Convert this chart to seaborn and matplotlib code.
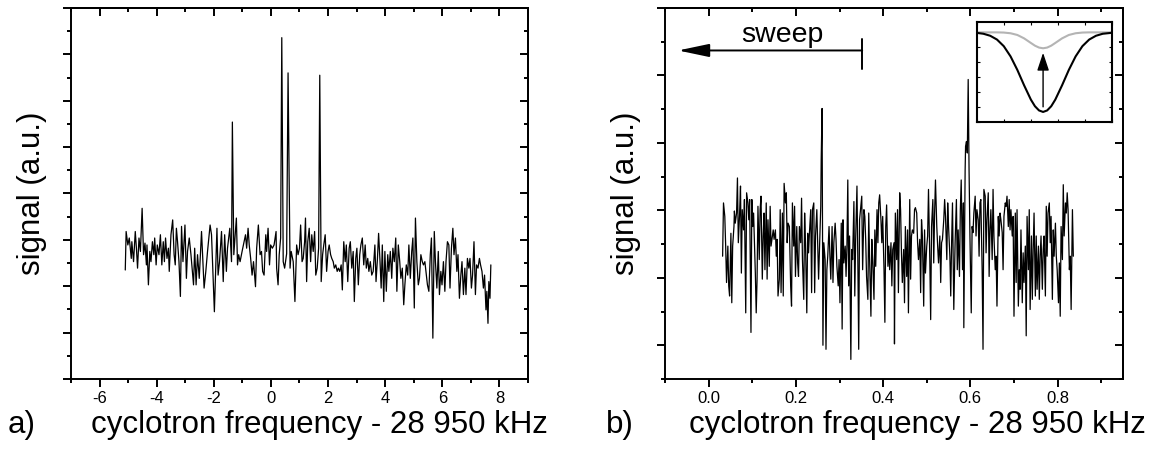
import matplotlib
matplotlib.use('Agg')
import matplotlib.pyplot as plt
import numpy as np
import pandas as pd
import seaborn as sns
from matplotlib.ticker import MultipleLocator, FormatStrFormatter

# ---- panel a: trace (frequency offset in kHz, signal a.u.)
freq_a = [-5.10, -5.07, -5.01, -4.96, -4.89, -4.87, -4.81, -4.75, -4.71, -4.67,
          -4.62, -4.57, -4.51, -4.46, -4.41, -4.36, -4.34, -4.29, -4.24, -4.20,
          -4.15, -4.10, -4.07, -4.02, -3.98, -3.92, -3.87, -3.82, -3.77, -3.73,
          -3.69, -3.64, -3.59, -3.56, -3.50, -3.44, -3.39, -3.35, -3.31, -3.27,
          -3.22, -3.17, -3.13, -3.08, -3.01, -2.96, -2.92, -2.86, -2.80, -2.71,
          -2.67, -2.62, -2.57, -2.51, -2.43, -2.34, -2.28, -2.22, -2.13, -2.08,
          -1.98, -1.89, -1.85, -1.80, -1.73, -1.67, -1.62, -1.56, -1.52, -1.44,
          -1.38, -1.35, -1.30, -1.21, -1.17, -1.13, -1.08, -1.01, -0.89, -0.85,
          -0.80, -0.76, -0.71, -0.66, -0.61, -0.54, -0.50, -0.44, -0.38, -0.33,
          -0.29, -0.24, -0.18, -0.15, -0.10, -0.05, -0.01, 0.05, 0.11, 0.18,
          0.20, 0.25, 0.29, 0.34, 0.38, 0.43, 0.48, 0.55, 0.60, 0.67,
          0.71, 0.78, 0.84, 0.90, 0.95, 1.00, 1.04, 1.09, 1.13, 1.18,
          1.21, 1.25, 1.29, 1.34, 1.39, 1.43, 1.48, 1.53, 1.57, 1.62,
          1.67, 1.71, 1.76, 1.81, 1.85, 1.90, 1.95, 2.00, 2.04, 2.09,
          2.13, 2.18, 2.22, 2.27, 2.32, 2.36, 2.41, 2.46, 2.50, 2.55,
          2.60, 2.64, 2.69, 2.74, 2.78, 2.83, 2.88, 2.92, 2.97, 3.01,
          3.06, 3.11, 3.15, 3.20, 3.25, 3.30, 3.34, 3.39, 3.43, 3.48,
          3.53, 3.58, 3.64, 3.68, 3.73, 3.77, 3.82, 3.86, 3.90, 3.95,
          3.99, 4.04, 4.09, 4.13, 4.18, 4.23, 4.27, 4.32, 4.37, 4.41,
          4.46, 4.51, 4.55, 4.60, 4.65, 4.69, 4.74, 4.79, 4.83, 4.88,
          4.93, 4.97, 5.02, 5.06, 5.11, 5.16, 5.20, 5.25, 5.30, 5.34,
          5.39, 5.44, 5.48, 5.53, 5.58, 5.62, 5.67, 5.72, 5.76, 5.81,
          5.86, 5.90, 5.95, 5.99, 6.04, 6.09, 6.13, 6.18, 6.23, 6.27,
          6.32, 6.37, 6.41, 6.46, 6.51, 6.55, 6.60, 6.65, 6.69, 6.74,
          6.79, 6.83, 6.88, 6.93, 6.97, 7.02, 7.06, 7.11, 7.16, 7.20,
          7.25, 7.30, 7.34, 7.39, 7.44, 7.48, 7.53, 7.56, 7.60, 7.63,
          7.67, 7.70]
signal_a = [2.35, 3.18, 2.89, 3.04, 2.60, 2.96, 2.53, 3.18, 2.82, 2.39,
            3.04, 2.75, 3.68, 2.68, 2.93, 2.46, 2.89, 2.03, 2.75, 2.53,
            2.96, 2.68, 3.04, 2.46, 2.89, 2.68, 3.11, 2.46, 2.96, 2.53,
            3.04, 2.60, 2.82, 2.32, 3.11, 3.43, 2.68, 2.46, 3.25, 2.96,
            2.53, 1.78, 3.29, 2.53, 3.32, 2.17, 2.75, 3.04, 2.68, 2.03,
            2.82, 2.03, 2.68, 2.17, 3.18, 1.96, 2.32, 2.75, 3.32, 3.11,
            1.45, 3.25, 2.24, 2.53, 3.18, 2.10, 3.11, 2.32, 2.82, 3.25,
            2.53, 5.54, 2.68, 3.47, 2.46, 2.68, 2.53, 2.75, 3.11, 2.82,
            3.25, 2.89, 2.60, 2.24, 2.53, 1.99, 2.82, 3.32, 2.68, 2.75,
            2.32, 2.24, 3.11, 2.75, 3.25, 2.46, 2.89, 2.82, 2.89, 3.18,
            2.39, 2.03, 2.68, 3.04, 7.36, 2.53, 2.39, 2.70, 6.60, 2.39,
            2.75, 2.53, 1.67, 2.89, 2.68, 2.82, 3.32, 2.53, 2.60, 2.96,
            3.47, 2.10, 2.96, 3.25, 2.53, 3.11, 2.75, 3.18, 2.24, 2.39,
            2.82, 6.55, 2.10, 2.68, 2.89, 3.11, 2.32, 2.75, 2.89, 2.68,
            2.60, 2.53, 2.39, 2.46, 2.32, 2.39, 2.32, 2.46, 1.92, 2.96,
            2.53, 2.89, 2.10, 2.82, 2.96, 2.39, 2.75, 1.67, 2.60, 2.82,
            2.03, 2.68, 2.89, 3.04, 2.46, 2.89, 2.39, 2.60, 2.32, 2.53,
            2.24, 2.32, 2.89, 2.10, 2.60, 3.14, 2.53, 1.96, 2.89, 1.67,
            2.75, 1.89, 2.68, 2.32, 2.75, 2.17, 2.82, 2.53, 3.04, 1.89,
            2.89, 2.53, 2.17, 2.39, 1.60, 2.03, 2.46, 2.24, 2.89, 2.17,
            2.75, 3.04, 1.53, 3.47, 2.53, 2.03, 2.17, 2.68, 2.53, 2.46,
            2.53, 2.24, 2.03, 1.89, 2.68, 3.04, 0.88, 3.18, 2.53, 1.96,
            2.75, 1.82, 2.32, 2.03, 2.53, 1.89, 2.53, 2.96, 2.89, 1.96,
            2.82, 3.25, 2.68, 3.04, 2.32, 2.68, 1.74, 2.24, 2.53, 1.82,
            2.39, 1.82, 2.60, 2.39, 2.60, 1.96, 2.24, 2.96, 1.82, 2.46,
            2.39, 2.60, 2.46, 2.32, 1.96, 2.24, 1.49, 1.89, 1.20, 2.10,
            1.74, 2.46]

# ---- panel b: trace
freq_b = [0.032, 0.034, 0.037, 0.039, 0.041, 0.044, 0.046, 0.048, 0.051, 0.053,
          0.055, 0.058, 0.059, 0.061, 0.064, 0.066, 0.068, 0.071, 0.073, 0.075,
          0.077, 0.080, 0.082, 0.085, 0.087, 0.090, 0.092, 0.094, 0.097, 0.099,
          0.101, 0.103, 0.107, 0.109, 0.111, 0.113, 0.116, 0.118, 0.120, 0.123,
          0.125, 0.127, 0.129, 0.132, 0.134, 0.136, 0.139, 0.141, 0.143, 0.146,
          0.148, 0.150, 0.153, 0.155, 0.157, 0.159, 0.162, 0.164, 0.166, 0.169,
          0.171, 0.173, 0.176, 0.178, 0.180, 0.182, 0.185, 0.188, 0.190, 0.192,
          0.195, 0.197, 0.199, 0.202, 0.204, 0.206, 0.208, 0.211, 0.213, 0.215,
          0.218, 0.220, 0.222, 0.225, 0.227, 0.229, 0.231, 0.234, 0.236, 0.238,
          0.241, 0.243, 0.245, 0.248, 0.250, 0.252, 0.254, 0.257, 0.258, 0.260,
          0.262, 0.264, 0.267, 0.269, 0.271, 0.273, 0.276, 0.278, 0.280, 0.283,
          0.285, 0.287, 0.290, 0.292, 0.294, 0.297, 0.299, 0.301, 0.304, 0.306,
          0.308, 0.310, 0.313, 0.315, 0.317, 0.319, 0.321, 0.323, 0.326, 0.328,
          0.330, 0.333, 0.335, 0.337, 0.340, 0.342, 0.344, 0.346, 0.349, 0.351,
          0.353, 0.356, 0.358, 0.360, 0.362, 0.365, 0.367, 0.369, 0.372, 0.374,
          0.376, 0.379, 0.381, 0.383, 0.386, 0.388, 0.390, 0.392, 0.395, 0.397,
          0.399, 0.402, 0.404, 0.406, 0.408, 0.411, 0.413, 0.415, 0.418, 0.420,
          0.422, 0.425, 0.426, 0.428, 0.431, 0.433, 0.435, 0.438, 0.440, 0.442,
          0.444, 0.447, 0.449, 0.451, 0.454, 0.456, 0.458, 0.461, 0.463, 0.465,
          0.467, 0.470, 0.472, 0.474, 0.477, 0.479, 0.481, 0.484, 0.486, 0.488,
          0.490, 0.493, 0.495, 0.497, 0.500, 0.502, 0.504, 0.507, 0.509, 0.511,
          0.514, 0.516, 0.518, 0.520, 0.523, 0.525, 0.527, 0.530, 0.532, 0.534,
          0.536, 0.539, 0.541, 0.543, 0.546, 0.548, 0.550, 0.553, 0.555, 0.557,
          0.559, 0.562, 0.565, 0.568, 0.570, 0.572, 0.575, 0.577, 0.579, 0.582,
          0.584, 0.585, 0.588, 0.589, 0.591, 0.593, 0.595, 0.597, 0.599, 0.602,
          0.604, 0.606, 0.608, 0.611, 0.613, 0.615, 0.618, 0.620, 0.622, 0.624,
          0.627, 0.629, 0.631, 0.634, 0.636, 0.638, 0.641, 0.643, 0.645, 0.647,
          0.650, 0.652, 0.654, 0.657, 0.659, 0.661, 0.664, 0.666, 0.668, 0.670,
          0.673, 0.675, 0.677, 0.680, 0.682, 0.684, 0.687, 0.689, 0.691, 0.693,
          0.696, 0.698, 0.700, 0.703, 0.705, 0.707, 0.710, 0.712, 0.714, 0.716,
          0.719, 0.721, 0.723, 0.726, 0.728, 0.730, 0.733, 0.735, 0.737, 0.740,
          0.742, 0.744, 0.746, 0.749, 0.751, 0.753, 0.756, 0.758, 0.760, 0.762,
          0.765, 0.767, 0.769, 0.772, 0.774, 0.776, 0.778, 0.781, 0.783, 0.785,
          0.788, 0.790, 0.792, 0.795, 0.797, 0.799, 0.802, 0.804, 0.806, 0.808,
          0.811, 0.813, 0.815, 0.818, 0.820, 0.822, 0.824, 0.827, 0.829, 0.831,
          0.834, 0.836]
signal_b = [1.32, 2.11, 1.91, 1.47, 0.93, 1.47, 0.88, 0.73, 1.66, 0.63,
            1.47, 1.76, 1.99, 1.81, 1.96, 2.48, 1.52, 1.96, 2.36, 1.07,
            2.01, 1.71, 2.16, 0.48, 2.26, 2.11, 1.86, 2.16, 0.19, 2.16,
            1.76, 1.96, 1.07, 0.48, 0.98, 2.06, 1.27, 2.01, 2.21, 0.98,
            1.62, 1.96, 1.12, 2.11, 0.98, 1.86, 1.17, 2.06, 1.47, 1.62,
            1.71, 1.57, 1.71, 1.32, 1.57, 0.73, 0.98, 2.01, 0.78, 1.96,
            0.73, 2.40, 2.11, 2.26, 1.52, 1.81, 1.76, 0.88, 0.58, 2.11,
            1.47, 2.06, 1.02, 1.76, 1.22, 1.02, 1.76, 1.52, 2.18, 1.27,
            0.68, 1.96, 1.52, 0.48, 1.66, 1.37, 1.66, 2.01, 0.78, 2.01,
            2.11, 0.78, 1.62, 2.01, 1.47, 0.98, 1.42, 2.06, 2.75, 3.51,
            0.00, 1.52, 1.27, -0.06, 1.12, 1.32, 1.76, 1.32, 0.98, 1.76,
            0.93, 1.52, 1.81, 1.57, 1.17, 0.88, 1.27, 0.63, 1.81, 0.24,
            1.86, 1.22, 1.47, 1.02, 1.47, 2.45, 0.88, 1.62, -0.21, 1.42,
            1.27, 2.13, 0.73, 1.57, 2.36, 1.27, -0.06, 1.86, 2.06, 2.21,
            1.12, 2.01, 1.91, 1.57, 1.02, 0.68, 1.96, 1.27, 0.43, 1.57,
            1.27, 0.68, 1.71, 1.17, 2.01, 1.52, 2.11, 2.23, 1.86, 1.52,
            1.91, 1.12, 0.34, 1.76, 2.08, 1.17, 1.47, 1.12, 1.52, 0.88,
            1.42, 1.52, 0.02, 1.96, 1.27, 2.01, 0.78, 2.26, 2.01, 1.37,
            0.93, 1.42, 0.63, 1.76, 1.02, 1.71, 0.48, 2.16, 0.98, 1.62,
            1.71, 1.66, 2.01, 2.04, 1.96, 1.52, 1.27, 1.57, 0.78, 1.86,
            1.62, 0.58, 1.71, 1.07, 1.47, 1.62, 2.31, 1.27, 0.38, 1.76,
            2.16, 1.22, 1.96, 2.45, 1.76, 1.47, 1.22, 1.62, 0.93, 1.52,
            1.57, 1.86, 2.16, 1.91, 1.27, 2.11, 1.76, 1.32, 0.73, 1.52,
            2.11, 0.53, 1.52, 2.16, 1.12, 1.71, 1.02, 2.01, 2.45, 1.12,
            2.11, 0.26, 2.60, 2.95, 3.02, 2.85, 3.94, 2.60, 1.62, 0.48,
            1.76, 1.67, 1.96, 2.21, 1.62, 2.01, 1.86, 1.32, 2.11, 2.16,
            1.12, -0.06, 2.31, 2.21, 1.37, 1.86, 2.26, 1.02, 1.71, 2.01,
            1.27, 2.31, 1.62, 1.12, 1.32, 0.58, 1.91, 1.62, 1.96, 1.86,
            1.67, 1.12, 1.91, 2.11, 2.06, 2.21, 1.76, 2.16, 1.71, 2.01,
            1.62, 1.91, 0.43, 1.96, 0.93, 2.01, 0.58, 1.12, 0.83, 1.71,
            0.63, 1.37, 0.93, 1.47, 0.14, 1.91, 1.12, 2.01, 0.53, 1.62,
            0.68, 1.42, 1.96, 0.73, 1.62, 0.83, 1.47, 0.68, 1.32, 1.62,
            0.83, 1.42, 1.62, 0.73, 2.06, 1.32, 1.96, 2.11, 1.52, 1.91,
            0.68, 1.71, 1.32, 1.81, 1.32, 1.12, 0.63, 1.22, 0.43, 1.76,
            1.27, 2.38, 1.62, 2.11, 1.96, 2.26, 2.01, 1.12, 1.32, 0.53,
            2.01, 1.32]

# ---- inset: schematic resonance dip before (black) and after (gray)
inset_x = [0.00, 0.05, 0.10, 0.15, 0.20, 0.25, 0.30, 0.35, 0.40, 0.43, 0.46, 0.49,
           0.52, 0.55, 0.58, 0.63, 0.68, 0.73, 0.78, 0.83, 0.88, 0.93, 1.00]
inset_black = [0.889, 0.880, 0.860, 0.822, 0.756, 0.654, 0.519, 0.365, 0.222, 0.156, 0.114, 0.099,
               0.114, 0.156, 0.222, 0.365, 0.519, 0.654, 0.756, 0.822, 0.860, 0.880, 0.890]
inset_gray = [0.894, 0.894, 0.894, 0.894, 0.892, 0.885, 0.868, 0.834, 0.788, 0.761, 0.742, 0.735,
              0.742, 0.761, 0.788, 0.834, 0.868, 0.885, 0.892, 0.894, 0.894, 0.894, 0.894]

# sweep marker (panel b data coordinates)
sweep_start, sweep_end, sweep_y = 0.352, -0.07, 4.37

xlabel = 'cyclotron frequency - 28 950 kHz'
ylabel = 'signal (a.u.)'
lw_frame = 1.4


def style_axes(ax, xlim, xmaj, xmin, ylim, ymaj, ymin):
    ax.set_xlim(*xlim)
    ax.set_ylim(*ylim)
    ax.xaxis.set_major_locator(MultipleLocator(xmaj))
    ax.xaxis.set_minor_locator(MultipleLocator(xmin))
    ax.yaxis.set_major_locator(MultipleLocator(ymaj))
    ax.yaxis.set_minor_locator(MultipleLocator(ymin))
    ax.tick_params(which='both', direction='out', width=lw_frame, color='black',
                   labelcolor='black', labelsize=12, labelleft=False,
                   top=False, right=False)
    ax.tick_params(which='major', length=5.5, pad=3)
    ax.tick_params(which='minor', length=3)
    for s in ax.spines.values():
        s.set_visible(True)
        s.set_linewidth(lw_frame)
        s.set_color('black')
    # inward ticks on top and right
    top = ax.secondary_xaxis('top')
    top.xaxis.set_major_locator(MultipleLocator(xmaj))
    top.xaxis.set_minor_locator(MultipleLocator(xmin))
    right = ax.secondary_yaxis('right')
    right.yaxis.set_major_locator(MultipleLocator(ymaj))
    right.yaxis.set_minor_locator(MultipleLocator(ymin))
    for sec in (top, right):
        sec.tick_params(which='both', direction='in', width=lw_frame, color='black',
                        labeltop=False, labelright=False)
        sec.tick_params(which='major', length=5.5)
        sec.tick_params(which='minor', length=3)
        for s in sec.spines.values():
            s.set_linewidth(lw_frame)
            s.set_color('black')


sns.set_theme(style='ticks')
plt.rcParams['font.family'] = ['Liberation Sans', 'DejaVu Sans']
plt.rcParams['axes.unicode_minus'] = False
plt.rcParams['text.color'] = 'black'
plt.rcParams['axes.labelcolor'] = 'black'

fig = plt.figure(figsize=(11.49, 4.53), dpi=100)
ax_a = fig.add_axes([0.0618, 0.1634, 0.3977, 0.819])
ax_b = fig.add_axes([0.5788, 0.1634, 0.3986, 0.819])

sns.lineplot(x=freq_a, y=signal_a, ax=ax_a, color='black', linewidth=0.9,
             estimator=None, sort=False)
sns.lineplot(x=freq_b, y=signal_b, ax=ax_b, color='black', linewidth=0.9,
             estimator=None, sort=False)

style_axes(ax_a, (-7, 9), 2, 1, (0, 8), 1, 0.5)
style_axes(ax_b, (-0.1, 0.95), 0.2, 0.1, (-0.5, 5.0), 1, 0.5)
ax_b.xaxis.set_major_formatter(FormatStrFormatter('%.1f'))

for ax, lx, tag, tx in ((ax_a, 0.543, 'a)', 8), (ax_b, 0.550, 'b)', 606)):
    ax.set_xlabel(xlabel, fontsize=22.5, va='baseline', color='black')
    ax.xaxis.set_label_coords(lx, -0.1456)
    ax.set_ylabel(ylabel, fontsize=22.5, color='black')
    ax.yaxis.set_label_coords(-0.052, 0.5)
    fig.text(tx / 1149, 20 / 453, tag, fontsize=22.5, va='baseline', ha='left',
             color='black')

# sweep arrow
ax_b.text(0.170, 4.49, 'sweep', fontsize=20.5, ha='center', va='baseline',
          color='black')
ax_b.annotate('', xy=(sweep_end, sweep_y), xytext=(sweep_start, sweep_y),
              arrowprops=dict(arrowstyle='-|>,head_length=0.95,head_width=0.2',
                              color='black', lw=1.4, mutation_scale=20,
                              shrinkA=0, shrinkB=0))
ax_b.plot([sweep_start, sweep_start], [4.10, 4.54], color='black', lw=1.4)

# inset
ax_in = fig.add_axes([0.850, 0.731, 0.118, 0.221])
sns.lineplot(x=inset_x, y=inset_gray, ax=ax_in, color='#b4b4b4', linewidth=1.5,
             estimator=None, sort=False)
sns.lineplot(x=inset_x, y=inset_black, ax=ax_in, color='black', linewidth=1.5,
             estimator=None, sort=False)
ax_in.set_xlim(0, 1)
ax_in.set_ylim(0, 1)
ax_in.annotate('', xy=(0.49, 0.69), xytext=(0.49, 0.15),
               arrowprops=dict(arrowstyle='-|>,head_length=0.9,head_width=0.3',
                               color='black', lw=1.0, mutation_scale=12,
                               shrinkA=0, shrinkB=0))
ax_in.xaxis.set_major_locator(MultipleLocator(0.2))
ax_in.yaxis.set_major_locator(MultipleLocator(0.15))
ax_in.tick_params(which='both', direction='in', length=2.5, width=0.8, color='black',
                  top=True, right=True, bottom=True, left=True,
                  labelbottom=False, labelleft=False)
for s in ax_in.spines.values():
    s.set_visible(True)
    s.set_linewidth(1.5)
    s.set_color('black')
ax_in.set_xlabel('')
ax_in.set_ylabel('')

fig.savefig('out.png', dpi=100, facecolor='white')
